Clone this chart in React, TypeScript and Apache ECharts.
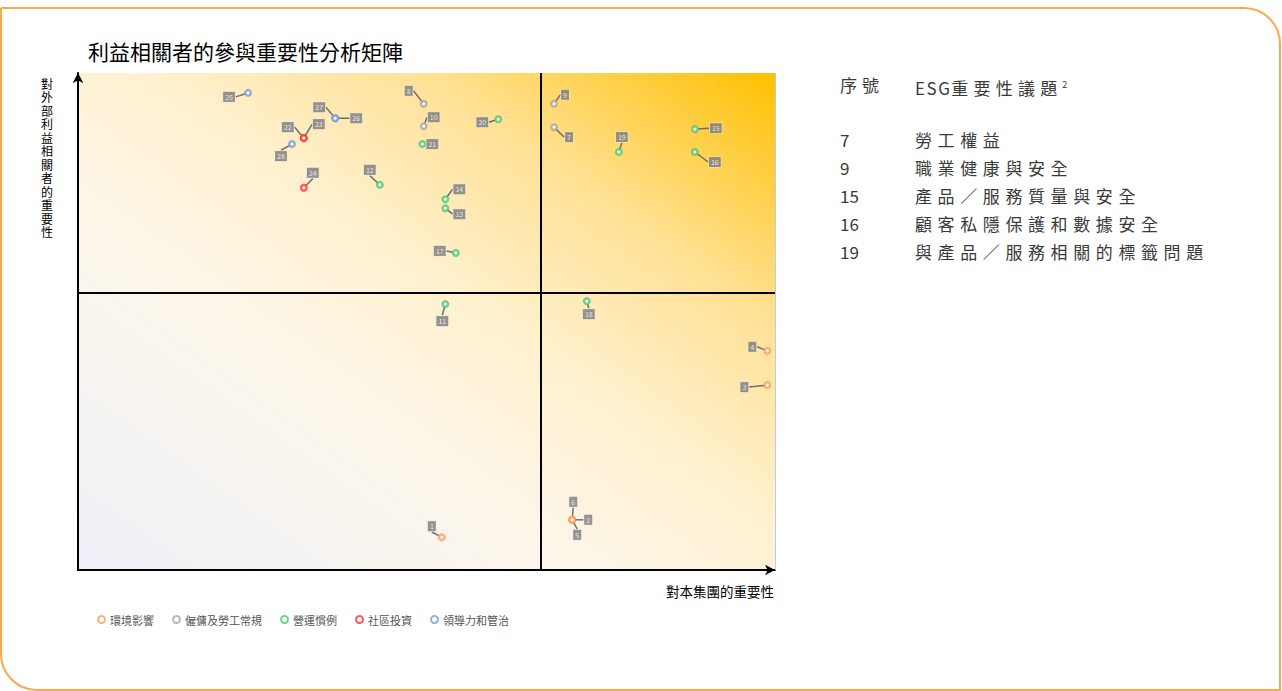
import React, { useEffect, useRef } from "react";
import * as echarts from "echarts";

// ---- data ----
const categories = ["環境影響", "僱傭及勞工常規", "營運慣例", "社區投資", "領導力和管治"];
const categoryColors = ["#f7a062", "#a6a6a6", "#4cc776", "#ff3535", "#7d9bd9"];

const envIds = [1, 2, 3, 4, 5, 6];
const envX = [52.2, 70.9, 98.9, 98.9, 70.9, 70.9];
const envY = [6.6, 10.1, 37.2, 44.1, 10.1, 10.1];

const laborIds = [7, 8, 9, 10];
const laborX = [68.3, 49.6, 68.3, 49.6];
const laborY = [89.1, 93.8, 93.8, 89.3];

const opsIds = [11, 12, 13, 14, 15, 16, 17, 18, 19, 20, 21];
const opsX = [52.7, 43.3, 52.7, 52.7, 88.5, 88.5, 54.2, 73.0, 77.6, 60.3, 49.4];
const opsY = [53.5, 77.5, 72.8, 74.6, 88.7, 84.1, 63.8, 54.1, 84.1, 90.7, 85.7];

const commIds = [22, 23, 24];
const commX = [32.4, 32.4, 32.4];
const commY = [86.9, 86.9, 76.9];

const govIds = [25, 26, 27, 28];
const govX = [24.4, 36.9, 36.9, 30.7];
const govY = [96.0, 90.9, 90.9, 85.7];

// quadrant dividers (axis values)
const dividerX = 66.4;
const dividerY = 55.7;

const tableHeaderNo = "序號";
const tableHeaderLatin = "ESG";
const tableHeaderCjk = "重要性議題";
const tableIds = ["7", "9", "15", "16", "19"];
const tableTopics = ["勞工權益", "職業健康與安全", "產品／服務質量與安全", "顧客私隱保護和數據安全", "與產品／服務相關的標籤問題"];

// label displacement (px) for each numbered issue
const labelOffsets: Record<number, [number, number]> = {
  1: [-10, -11], 2: [16, 0], 3: [-23, 2], 4: [-15, -4], 5: [5, 15], 6: [1, -18],
  7: [15, 10], 8: [-15, -13], 9: [11, -9], 10: [10, -9],
  11: [-3, 17], 12: [-10, -15], 13: [14, 6], 14: [14, -10], 15: [21, -1], 16: [20, 10],
  17: [-16, -2], 18: [2, 13], 19: [3, -15], 20: [-16, 3], 21: [10, 0],
  22: [-16, -11], 23: [15, -14], 24: [9, -15],
  25: [-19, 4], 26: [21, 0], 27: [-16, -11], 28: [-11, 12],
};

const groups = [
  { ids: envIds, xs: envX, ys: envY },
  { ids: laborIds, xs: laborX, ys: laborY },
  { ids: opsIds, xs: opsX, ys: opsY },
  { ids: commIds, xs: commX, ys: commY },
  { ids: govIds, xs: govX, ys: govY },
];

const FONT = "'Noto Sans CJK TC', 'Noto Sans', sans-serif";
const VFONT = "'Liberation Sans', 'Noto Sans CJK TC', sans-serif";

export default function App() {
  const ref = useRef<HTMLDivElement>(null);

  useEffect(() => {
    if (!ref.current) return;
    const chart = echarts.init(ref.current, undefined, { renderer: "svg" });

    const scatterSeries = groups.map((g, gi) => ({
      name: categories[gi],
      type: "scatter",
      symbol: "circle",
      symbolSize: 5.5,
      itemStyle: { color: "#ffffff", borderColor: categoryColors[gi], borderWidth: 2.5 },
      data: g.ids.map((id, i) => ({ value: [g.xs[i], g.ys[i]], id: String(id), name: String(id) })),
      label: {
        show: true,
        position: "inside",
        formatter: (p: any) => p.name,
        color: "#ffffff",
        fontSize: 7,
        fontFamily: FONT,
        backgroundColor: "#7a7a7a",
        borderColor: "rgba(230,230,230,0.8)",
        borderWidth: 0.8,
        padding: [2, 2, 1, 2],
      },
      labelLine: { show: true, lineStyle: { color: "#6f6f6f", width: 1.5 } },
      labelLayout: (params: any) => {
        const id = g.ids[params.dataIndex];
        const off = labelOffsets[id] || [0, 0];
        return { dx: off[0], dy: off[1] };
      },
      z: 5,
    }));

    const option: any = {
      animation: false,
      textStyle: { fontFamily: FONT },
      title: {
        text: "利益相關者的參與重要性分析矩陣",
        left: 83,
        top: 35,
        textStyle: { fontSize: 21, fontWeight: "normal", color: "#000", fontFamily: FONT },
      },
      legend: {
        data: categories,
        left: 92,
        top: 609,
        icon: "circle",
        itemWidth: 7,
        itemHeight: 7,
        itemGap: 18,
        textStyle: { fontSize: 11, color: "#555", fontFamily: FONT },
      },
      grid: {
        left: 78,
        top: 73,
        width: 697,
        height: 497,
        show: true,
        borderWidth: 0,
        backgroundColor: new echarts.graphic.LinearGradient(0, 1, 1, 0, [
          { offset: 0, color: "#eef0f8" },
          { offset: 0.35, color: "#fcf6ea" },
          { offset: 0.55, color: "#fff1cf" },
          { offset: 0.75, color: "#ffe194" },
          { offset: 1, color: "#ffc000" },
        ]),
      },
      xAxis: {
        type: "value",
        min: 0,
        max: 100,
        axisLine: {
          show: true,
          symbol: ["none", "arrow"],
          symbolSize: [8, 10],
          lineStyle: { color: "#000", width: 2 },
        },
        axisTick: { show: false },
        axisLabel: { show: false },
        splitLine: { show: false },
      },
      yAxis: {
        type: "value",
        min: 0,
        max: 100,
        axisLine: {
          show: true,
          symbol: ["none", "arrow"],
          symbolSize: [8, 10],
          lineStyle: { color: "#000", width: 2 },
        },
        axisTick: { show: false },
        axisLabel: { show: false },
        splitLine: { show: false },
      },
      series: [
        {
          name: "dividers",
          type: "line",
          data: [],
          silent: true,
          markLine: {
            silent: true,
            symbol: ["none", "none"],
            label: { show: false },
            data: [
              { xAxis: dividerX, lineStyle: { color: "#000", width: 2, type: "solid" } },
              { yAxis: dividerY, lineStyle: { color: "#000", width: 2, type: "solid" } },
              { xAxis: 100, lineStyle: { color: "#b7cdea", width: 1, type: "solid" } },
            ],
          },
          z: 2,
        },
        ...scatterSeries,
      ],
      graphic: [
        {
          type: "rect",
          shape: { x: 1, y: 8, width: 1279, height: 682, r: [0, 36, 0, 36] },
          style: { fill: "none", stroke: "#f8a94c", lineWidth: 2 },
          silent: true,
        },
        {
          type: "text",
          left: 41,
          top: 78,
          style: {
            text: "對外部利益相關者的重要性".split("").join("\n"),
            fontSize: 12,
            lineHeight: 13.5,
            fill: "#000",
            fontFamily: VFONT,
            align: "center",
          },
        },
        {
          type: "text",
          right: 508,
          top: 584,
          style: {
            text: "對本集團的重要性",
            fontSize: 13.5,
            fill: "#000",
            fontFamily: FONT,
          },
        },
      ],
    };

    chart.setOption(option);
    return () => chart.dispose();
  }, []);

  const rowStyle: React.CSSProperties = {
    position: "absolute",
    fontFamily: FONT,
    fontSize: 17,
    color: "#3a3a3a",
    lineHeight: "20px",
    whiteSpace: "nowrap",
  };

  return (
    <div style={{ position: "absolute", left: 0, top: 0, width: 1282, height: 691, background: "#fff" }}>
      <div ref={ref} style={{ position: "absolute", left: 0, top: 0, width: 1282, height: 691 }} />
      <div style={{ ...rowStyle, left: 840, top: 75, letterSpacing: 5 }}>{tableHeaderNo}</div>
      <div style={{ ...rowStyle, left: 915, top: 75 }}>
        <span style={{ letterSpacing: 1.5 }}>{tableHeaderLatin}</span>
        <span style={{ letterSpacing: 5.2 }}>{tableHeaderCjk}</span>
        <sup style={{ fontSize: 9, letterSpacing: 0 }}>2</sup>
      </div>
      {tableIds.map((id, i) => (
        <React.Fragment key={id}>
          <div style={{ ...rowStyle, left: 840, top: 130 + i * 28 }}>{id}</div>
          <div style={{ ...rowStyle, left: 915, top: 130 + i * 28, letterSpacing: 5.6 }}>{tableTopics[i]}</div>
        </React.Fragment>
      ))}
    </div>
  );
}
